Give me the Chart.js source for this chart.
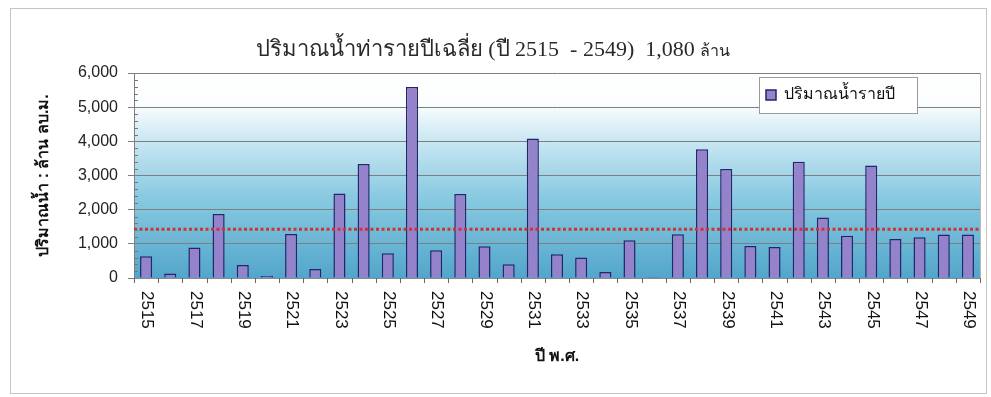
<!DOCTYPE html>
<html>
<head>
<meta charset="utf-8">
<script src="https://cdn.jsdelivr.net/npm/chart.js@4.4.1/dist/chart.umd.min.js"></script>
<style>
    html, body { margin: 0; padding: 0; background: #fff; }
    #wrap { position: relative; width: 991px; height: 397px; }
    #frame {
        position: absolute; left: 10px; top: 8px; width: 977px; height: 386px;
        border: 1px solid #c4c4c4; box-sizing: border-box;
    }
    #flowChart { position: absolute; left: 0; top: 0; }
</style>
</head>
<body>
<div id="wrap">
    <div id="frame"></div>
    <canvas id="flowChart" width="991" height="397"></canvas>
</div>
<script>
// Annual runoff, B.E. 2515 - 2549 (million m3)
const years = ['2515', '2516', '2517', '2518', '2519', '2520', '2521', '2522', '2523', '2524',
    '2525', '2526', '2527', '2528', '2529', '2530', '2531', '2532', '2533', '2534',
    '2535', '2536', '2537', '2538', '2539', '2540', '2541', '2542', '2543', '2544',
    '2545', '2546', '2547', '2548', '2549'];
const flowValues = [640, 130, 890, 1870, 380, 60, 1290, 265, 2475, 3335,
    725, 5590, 810, 2455, 930, 400, 4085, 695, 600, 175,
    1105, 30, 1280, 3765, 3190, 940, 910, 3400, 1770, 1240,
    3295, 1145, 1195, 1270, 1270];
const xTickLabels = ['2515', '2517', '2519', '2521', '2523', '2525', '2527', '2529', '2531',
    '2533', '2535', '2537', '2539', '2541', '2543', '2545', '2547', '2549'];
const yTicks = [0, 1000, 2000, 3000, 4000, 5000, 6000];
const avgLevel = 1430;

const seriesName = 'ปริมาณน้ำรายปี';
const chartTitle = 'ปริมาณน้ำท่ารายปีเฉลี่ย (ปี 2515  - 2549)  1,080 ';
const titleUnit = 'ล้าน';

const barFill = '#9482ca';
const barEdge = '#26246a';
const sansFont = '"Liberation Sans", Arial, sans-serif';

// sky-to-water backdrop behind the plot
const backdrop = {
    id: 'backdrop',
    beforeDraw(chart) {
        const { ctx, chartArea: a } = chart;
        const g = ctx.createLinearGradient(0, a.top, 0, a.bottom);
        g.addColorStop(0, '#ffffff');
        g.addColorStop(0.15, '#fbfdfe');
        g.addColorStop(0.33, '#c9e7f3');
        g.addColorStop(0.6, '#8acae1');
        g.addColorStop(1, '#52a6cb');
        ctx.save();
        ctx.fillStyle = g;
        ctx.fillRect(a.left, a.top, a.right - a.left, a.bottom - a.top);
        ctx.restore();
    }
};

const overlay = {
    id: 'overlay',
    afterDatasetsDraw(chart) {
        // dotted average line across the whole plot
        const { ctx, chartArea: a } = chart;
        const y = chart.scales.y.getPixelForValue(avgLevel);
        ctx.save();
        ctx.strokeStyle = '#cc3434';
        ctx.lineWidth = 3;
        ctx.setLineDash([3, 2.5]);
        ctx.beginPath();
        ctx.moveTo(a.left, y);
        ctx.lineTo(a.right, y);
        ctx.stroke();
        ctx.restore();
    },
    afterDraw(chart) {
        const { ctx, chartArea: a } = chart;
        const xs = chart.scales.x, ys = chart.scales.y;
        ctx.save();

        // right edge of plot
        ctx.strokeStyle = '#b8b8b8';
        ctx.lineWidth = 1;
        ctx.beginPath();
        ctx.moveTo(a.right + 0.5, a.top);
        ctx.lineTo(a.right + 0.5, a.bottom);
        ctx.stroke();

        // minor ticks on the value axis
        ctx.strokeStyle = '#777';
        for (let v = 200; v < 6000; v += 200) {
            if (v % 1000 === 0) continue;
            const y = Math.round(ys.getPixelForValue(v)) + 0.5;
            ctx.beginPath();
            ctx.moveTo(a.left, y);
            ctx.lineTo(a.left + 4, y);
            ctx.stroke();
        }

        // short ticks between the years
        ctx.strokeStyle = '#666';
        for (let i = 0; i <= years.length; i++) {
            const x = Math.round(xs.getPixelForValue(i - 0.5)) + 0.5;
            ctx.beginPath();
            ctx.moveTo(x, a.bottom);
            ctx.lineTo(x, a.bottom + 5);
            ctx.stroke();
        }

        // year labels, turned to read downwards
        ctx.fillStyle = '#111';
        ctx.font = '17px ' + sansFont;
        ctx.textAlign = 'left';
        ctx.textBaseline = 'middle';
        xTickLabels.forEach(lbl => {
            const x = xs.getPixelForValue(years.indexOf(lbl));
            ctx.save();
            ctx.translate(x + 1, a.bottom + 13);
            ctx.rotate(Math.PI / 2);
            ctx.fillText(lbl, 0, 0);
            ctx.restore();
        });

        // title
        ctx.fillStyle = '#2a2a2a';
        ctx.textBaseline = 'alphabetic';
        const mainFont = '22px "Liberation Serif", "Times New Roman", serif';
        const unitFont = '16px "Liberation Serif", "Times New Roman", serif';
        ctx.font = mainFont;
        const w1 = ctx.measureText(chartTitle).width;
        ctx.font = unitFont;
        const w2 = ctx.measureText(titleUnit).width;
        const tx = 493 - (w1 + w2) / 2;
        ctx.font = mainFont;
        ctx.fillText(chartTitle, tx, 56);
        ctx.font = unitFont;
        ctx.fillText(titleUnit, tx + w1, 56);

        // legend box
        ctx.fillStyle = '#fff';
        ctx.fillRect(759, 77, 158, 36);
        ctx.strokeStyle = '#9a9a9a';
        ctx.strokeRect(759.5, 77.5, 158, 36);
        ctx.fillStyle = barFill;
        ctx.fillRect(766, 90, 10, 10);
        ctx.strokeStyle = barEdge;
        ctx.lineWidth = 1.5;
        ctx.strokeRect(766, 90, 10, 10);
        ctx.fillStyle = '#111';
        ctx.font = '16px ' + sansFont;
        ctx.textBaseline = 'middle';
        ctx.fillText(seriesName, 784, 95);

        ctx.restore();
    }
};

const ctxFlow = document.getElementById('flowChart').getContext('2d');
const flowChart = new Chart(ctxFlow, {
    type: 'bar',
    data: {
        labels: years,
        datasets: [{
            label: seriesName,
            data: flowValues,
            backgroundColor: barFill,
            borderColor: barEdge,
            borderWidth: 1.5,
            borderSkipped: 'bottom',
            barPercentage: 0.5,
            categoryPercentage: 1
        }]
    },
    options: {
        responsive: false,
        animation: false,
        layout: { padding: { left: 30, right: 11, top: 73, bottom: 27 } },
        plugins: {
            legend: { display: false },
            title: { display: false },
            tooltip: { enabled: false }
        },
        scales: {
            x: {
                offset: true,
                grid: { display: false },
                border: { display: true, color: '#8a8a8a' },
                ticks: { display: false },
                title: {
                    display: true,
                    text: 'ปี พ.ศ.',
                    color: '#111',
                    font: { family: sansFont, size: 16, weight: 'bold' }
                },
                afterFit: scale => { scale.height = 92; }
            },
            y: {
                min: 0,
                max: 6000,
                afterBuildTicks: scale => { scale.ticks = yTicks.map(v => ({ value: v })); },
                grid: { color: '#7f7f7f', tickLength: 6 },
                border: { color: '#7f7f7f' },
                ticks: {
                    padding: 10,
                    color: '#222',
                    font: { family: sansFont, size: 16 },
                    callback: v => v.toLocaleString('en-US')
                },
                title: {
                    display: true,
                    text: 'ปริมาณน้ำ : ล้าน ลบ.ม.',
                    color: '#111',
                    font: { family: sansFont, size: 16, weight: 'bold' }
                },
                afterFit: scale => { scale.width = 104; }
            }
        }
    },
    plugins: [backdrop, overlay]
});
</script>
</body>
</html>
